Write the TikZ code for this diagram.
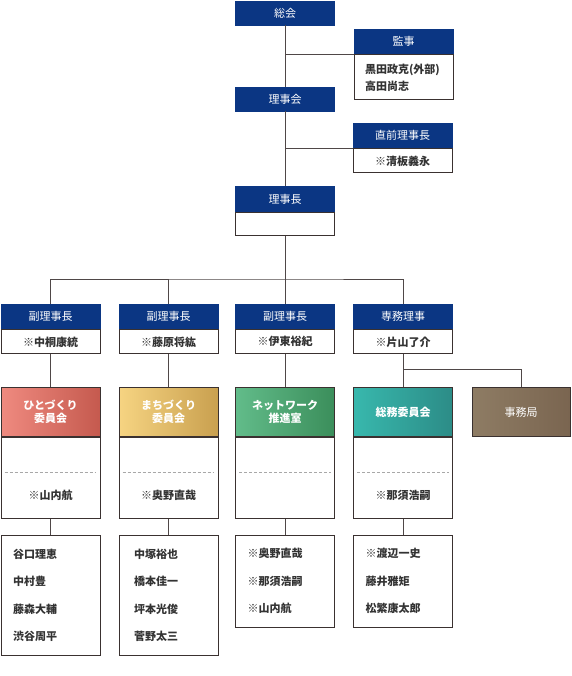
\documentclass[tikz,border=0pt]{standalone}
\usepackage{fontspec}
\setmainfont{Noto Sans CJK JP}
\usetikzlibrary{positioning,calc}
\definecolor{navyHead}{HTML}{0B3683}
\definecolor{boxLine}{HTML}{3A3130}
\definecolor{linkLine}{HTML}{4F4747}
\definecolor{nameText}{HTML}{333333}
\definecolor{sepGray}{HTML}{A8A8A8}
\definecolor{redL}{HTML}{EF8A80}
\definecolor{redR}{HTML}{C55A4E}
\definecolor{yellowL}{HTML}{F6D482}
\definecolor{yellowR}{HTML}{C9A04F}
\definecolor{greenL}{HTML}{62BC8A}
\definecolor{greenR}{HTML}{3B8E5B}
\definecolor{tealL}{HTML}{38B8AD}
\definecolor{tealR}{HTML}{2C8C87}
\definecolor{brownL}{HTML}{8E7C64}
\definecolor{brownR}{HTML}{7A6550}
\tikzset{
  box/.style={draw=boxLine,line width=0.9pt,inner sep=0pt},
  headBox/.style={draw=navyHead,fill=navyHead,text=white,inner sep=0pt,minimum width=99pt,minimum height=25pt,font=\fontsize{11}{13}\selectfont},
  nameBox/.style={box,fill=white,text=nameText,minimum width=99pt,font=\bfseries\fontsize{11}{13}\selectfont},
  cmtBox/.style={box,text=white,align=center,minimum width=99pt,minimum height=49pt,font=\bfseries\fontsize{11}{13}\selectfont},
  memberBox/.style={box,fill=white,text=nameText,align=left,inner xsep=12pt,text width=75pt,font=\bfseries\fontsize{11}{27.5}\selectfont},
  chairName/.style={text=nameText,inner sep=0pt,font=\bfseries\fontsize{11}{13}\selectfont},
  sepLine/.style={draw=sepGray,line width=0.6pt,dash pattern=on 3pt off 2pt},
  link/.style={draw=linkLine,line width=0.9pt},
}
\begin{document}
\begin{tikzpicture}[x=1pt,y=-1pt]
\useasboundingbox (0,0) rectangle (571,676);

% ===== General meeting, board, chairman =====
\node[headBox, anchor=north, minimum height=24pt] (sokai) at (285,1) {総会};
\node[headBox, anchor=north, minimum height=24pt] (rijikai) at (285,87) {理事会};
\node[headBox, anchor=north, minimum height=26pt] (richoHead) at (285,186) {理事長};
\node[nameBox, below=0pt of richoHead, minimum height=23pt] (richoBody) {};

% ===== Auditors and former chairman =====
\node[headBox, anchor=north] (kanjiHead) at (403.5,29) {監事};
\node[nameBox, below=0pt of kanjiHead, minimum height=45pt, align=left, inner xsep=11pt, text width=77pt,
  font=\bfseries\fontsize{11}{17}\selectfont] (kanjiBody) {黒田政克(外部)\\高田尚志};
\node[headBox, anchor=north] (zenHead) at (402.5,123) {直前理事長};
\node[nameBox, below=0pt of zenHead, minimum height=24pt] (zenBody) {※清板義永};

\draw[link] (sokai) -- (rijikai);
\draw[link] (rijikai) -- (richoHead);
\draw[link] (sokai.south |- kanjiHead.south) -- (kanjiHead.south west);
\draw[link] (rijikai.south |- zenHead.south) -- (zenHead.south west);

% ===== Vice chairmen and executive director =====
\foreach \i/\x/\role/\who in {1/50.5/副理事長/※中桐康統, 2/168.5/副理事長/※藤原将紘,
                               3/285/副理事長/※伊東裕紀, 4/403/専務理事/※片山了介} {
  \node[headBox, anchor=north] (fuku\i Head) at (\x,304) {\role};
  \node[nameBox, below=0pt of fuku\i Head, minimum height=24pt] (fuku\i Body) {\who};
}
\coordinate (bus) at (285,279);
\draw[link] (richoBody) -- (fuku3Head);
\draw[link] (fuku1Head.north) |- (bus) -| (fuku4Head.north);
\draw[link] (fuku2Head.north) -- (fuku2Head.north |- bus);

% ===== Committees =====
\foreach \i/\x/\from/\to/\title/\who in {1/50.5/redL/redR/{ひとづくり\\委員会}/※山内航,
                                          2/168.5/yellowL/yellowR/{まちづくり\\委員会}/※奥野直哉,
                                          3/285/greenL/greenR/{ネットワーク\\推進室}/{},
                                          4/403/tealL/tealR/{総務委員会}/※那須浩嗣} {
  \node[cmtBox, left color=\from, right color=\to, anchor=north] (iinkai\i) at (\x,387) {\title};
  \node[nameBox, below=0pt of iinkai\i, minimum height=81pt] (iinkai\i Body) {};
  \draw[sepLine] ($(iinkai\i Body.north west)+(4,35)$) -- ($(iinkai\i Body.north east)+(-4,35)$);
  \node[chairName] (chair\i) at ($(iinkai\i Body.south)+(0,-23)$) {\who};
  \draw[link] (fuku\i Body) -- (iinkai\i);
}

% ===== Secretariat =====
\node[cmtBox, left color=brownL, right color=brownR, anchor=north, minimum width=98pt,
  font=\fontsize{11}{13}\selectfont] (jimukyoku) at (521,387) {事務局};
\coordinate (jimuJoint) at (403,369);
\draw[link] (jimuJoint) -| (jimukyoku.north);

% ===== Members =====
\node[memberBox, below=16pt of iinkai1Body, minimum height=120pt] (member1) {谷口理恵\\中村豊\\藤森大輔\\渋谷周平};
\node[memberBox, below=16pt of iinkai2Body, minimum height=120pt, inner xsep=15pt, text width=69pt] (member2) {中塚裕也\\橋本佳一\\坪本光俊\\菅野太三};
\node[memberBox, below=16pt of iinkai3Body, minimum height=92pt] (member3) {※奥野直哉\\※那須浩嗣\\※山内航};
\node[memberBox, below=16pt of iinkai4Body, minimum height=92pt] (member4) {※渡辺一史\\藤井雅矩\\松繁康太郎};
\foreach \i in {1,...,4} {\draw[link] (iinkai\i Body) -- (member\i);}

\end{tikzpicture}
\end{document}
